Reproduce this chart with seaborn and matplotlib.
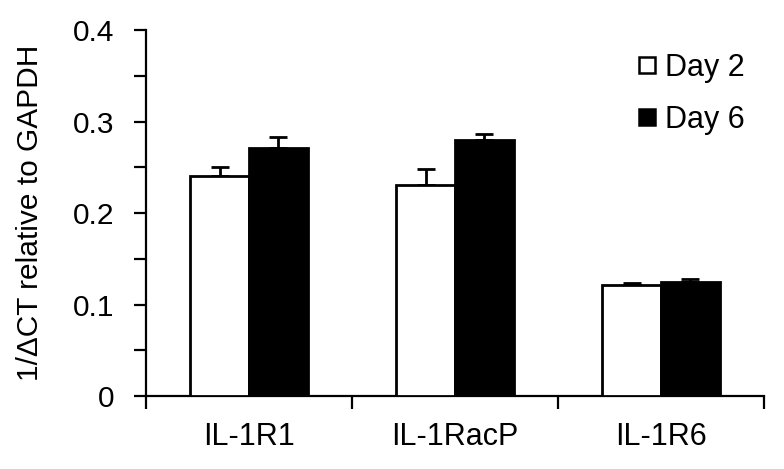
import matplotlib
matplotlib.use("Agg")
import matplotlib.pyplot as plt
import seaborn as sns
import pandas as pd
import numpy as np
from matplotlib.lines import Line2D
from matplotlib.ticker import MultipleLocator, FixedLocator

categories = ["IL-1R1", "IL-1RacP", "IL-1R6"]
days = ["Day 2", "Day 6"]
day2_values = [0.240, 0.231, 0.121]
day6_values = [0.271, 0.280, 0.125]
day2_err = [0.010, 0.017, 0.002]
day6_err = [0.012, 0.006, 0.003]
y_ticks = [0, 0.1, 0.2, 0.3, 0.4]
y_tick_labels = ["0", "0.1", "0.2", "0.3", "0.4"]
ylabel = "1/\u0394CT relative to GAPDH"

df = pd.DataFrame({
    "gene": categories * 2,
    "day": [days[0]] * 3 + [days[1]] * 3,
    "value": day2_values + day6_values,
    "err": day2_err + day6_err,
})

sns.set_theme(style="white")
plt.rcParams["font.family"] = ["Liberation Sans", "DejaVu Sans"]
plt.rcParams.update({
    "text.color": "black",
    "axes.labelcolor": "black",
    "xtick.color": "black",
    "ytick.color": "black",
})

fig = plt.figure(figsize=(7.84, 4.69), dpi=100)
ax = fig.add_axes([146 / 784, 1 - 396 / 469, 618 / 784, 366 / 469])

sns.barplot(data=df, x="gene", y="value", hue="day", order=categories,
            hue_order=days, palette=["white", "black"], width=0.57,
            edgecolor="black", linewidth=2.0, errorbar=None, ax=ax,
            legend=False, zorder=3)

# error bars (upper only)
for bars, errs in zip(ax.containers, [day2_err, day6_err]):
    for patch, e in zip(bars, errs):
        xc = patch.get_x() + patch.get_width() / 2
        h = patch.get_height()
        ax.errorbar(xc, h, yerr=[[0], [e]], fmt="none", ecolor="black",
                    elinewidth=2.0, capsize=6.5, capthick=2.0, zorder=2)

ax.set_xlim(-0.5, 2.5)
ax.set_ylim(0, 0.4)
ax.yaxis.set_major_locator(FixedLocator(y_ticks))
ax.set_yticklabels(y_tick_labels)
ax.yaxis.set_minor_locator(MultipleLocator(0.05))
ax.xaxis.set_minor_locator(FixedLocator([-0.5, 0.5, 1.5, 2.5]))

for s in ["top", "right"]:
    ax.spines[s].set_visible(False)
for s in ["left", "bottom"]:
    ax.spines[s].set_color("black")
    ax.spines[s].set_linewidth(1.6)

ax.tick_params(axis="y", which="both", direction="out", length=9, width=1.6,
               color="black", labelcolor="black", left=True, labelsize=21.5, pad=14)
ax.tick_params(axis="x", which="major", length=0, labelsize=22, pad=19,
               labelcolor="black")
ax.tick_params(axis="x", which="minor", direction="out", length=9, width=1.6,
               color="black", bottom=True)
ax.set_xlabel("")
ax.set_ylabel(ylabel, fontsize=21.5, color="black")
ax.yaxis.set_label_coords(-0.165, 0.5)

handles = [Line2D([0], [0], marker="s", linestyle="none", markersize=11,
                  markerfacecolor=c, markeredgecolor="black", markeredgewidth=1.8)
           for c in ["white", "black"]]
leg = ax.legend(handles, days, loc="upper left",
                bbox_to_anchor=(637.5 / 784, 1 - 53 / 469), bbox_transform=fig.transFigure,
                frameon=False, fontsize=22, handlelength=0.6, handletextpad=0.3,
                labelspacing=0.71, borderpad=0, borderaxespad=0)
for t in leg.get_texts():
    t.set_color("black")

fig.savefig("out.png", dpi=100)
